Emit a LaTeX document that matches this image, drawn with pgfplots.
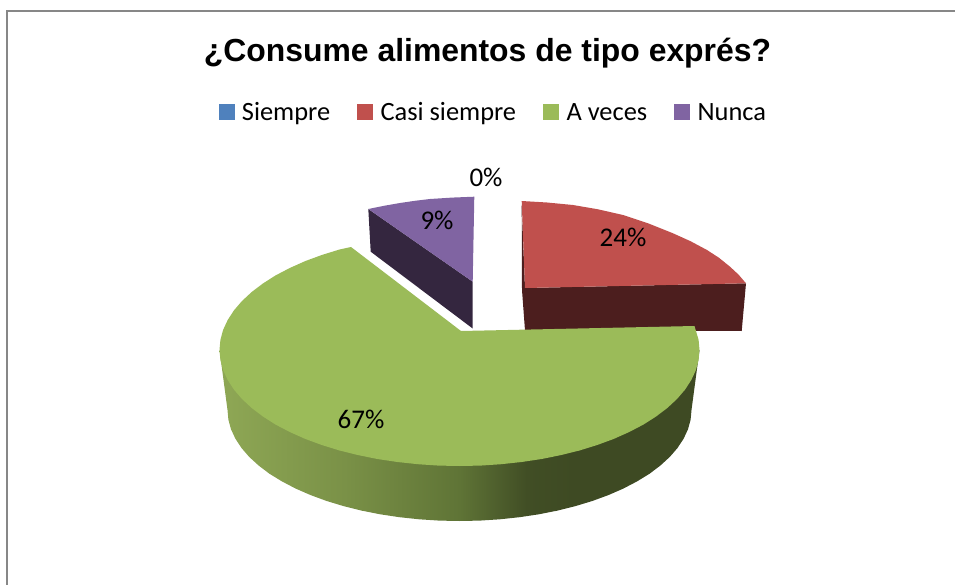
\documentclass[border=0pt]{standalone}
\usepackage{pgfplots}
\pgfplotsset{compat=1.18}
\usepackage{fontspec}
\setmainfont{Carlito}
\newfontfamily\titlefont{Liberation Sans}
\definecolor{cBlue}{HTML}{4F81BD}
\definecolor{cRed}{HTML}{C0504D}
\definecolor{cGreen}{HTML}{9BBB59}
\definecolor{cPurple}{HTML}{8064A2}
\definecolor{dRed}{HTML}{4C1E1E}
\definecolor{dPurple}{HTML}{34263F}
\definecolor{gA}{HTML}{8DA654}
\definecolor{gB}{HTML}{7A9147}
\definecolor{gC}{HTML}{5F7436}
\definecolor{gD}{HTML}{414E25}
\definecolor{gE}{HTML}{3E4A23}
\pgfdeclarehorizontalshading{greenside}{100bp}{color(0bp)=(gA); color(26bp)=(gA); color(38bp)=(gB); color(50bp)=(gC); color(57bp)=(gD); color(62bp)=(gE); color(100bp)=(gE)}
\begin{document}
\begin{tikzpicture}
\useasboundingbox (0,0) rectangle (955pt,585pt);
\begin{axis}[
  at={(0,0)}, anchor=south west,
  width=955pt, height=585pt, scale only axis,
  xmin=0, xmax=955, ymin=0, ymax=585, y dir=reverse,
  hide axis,
  legend columns=-1,
  legend cell align=left,
  legend style={draw=none, fill=none, at={(0.5165,0.8085)}, anchor=center,
    font=\fontsize{26.4}{30}\selectfont,
    nodes={text height=20pt, text depth=4pt},
    /tikz/every even column/.append style={column sep=25pt},
    /tikz/every odd column/.append style={column sep=6pt},
    inner sep=0pt, outer sep=0pt},
  legend image code/.code={\fill[#1] (0pt,-7.5pt) rectangle (15pt,7.5pt);},
]
% frame
\addplot[forget plot, color=black!47, line width=1.6pt] coordinates {(7,590) (7,11) (960,11)};
% legend
\addlegendimage{cBlue}\addlegendentry{Siempre}
\addlegendimage{cRed}\addlegendentry{Casi siempre}
\addlegendimage{cGreen}\addlegendentry{A veces}
\addlegendimage{cPurple}\addlegendentry{Nunca}
% Nunca 9%
\addplot[forget plot, fill=dPurple, draw=none] coordinates {(368.3,209) (472.7,281.7) (472.7,328.5) (370.7,251.7)} -- cycle;
\addplot[forget plot, fill=cPurple, draw=none] coordinates {(474.3,196.7) (452,197.6) (430,199) (415,200.8) (400,203) (384,205.8) (368.3,209) (472.7,281.7)} -- cycle;
% Casi siempre 24%
\addplot[forget plot, fill=dRed, draw=none] coordinates {(521.7,205) (525,288) (525,330.5) (522,290)} -- cycle;
\addplot[forget plot, fill=dRed, draw=none] coordinates {(525,288) (746,283.3) (741.7,331) (525,330.5)} -- cycle;
\addplot[forget plot, fill=cRed, draw=none] coordinates {(521.7,201) (547,202.5) (573,205) (598,209.3) (623,215) (648,223.3) (673,233.3) (690.5,241.2) (707,250) (719,257.8) (730,266.7) (738.5,274.6) (746,283.3) (525,288)} -- cycle;
% A veces 67%
\addplot[forget plot, shading=greenside, draw=none] coordinates {(699.5,350) (691.5,410) (690.6,419.7) (688,429.3) (683.6,438.7) (677.5,448) (669.8,456.9) (660.4,465.5) (649.6,473.7) (637.2,481.3) (623.5,488.5) (608.6,495) (592.6,500.9) (575.5,506.1) (557.5,510.6) (538.8,514.3) (519.5,517.2) (499.8,519.3) (479.7,520.6) (459.5,521) (439.3,520.6) (419.2,519.3) (399.5,517.2) (380.2,514.3) (361.5,510.6) (343.5,506.1) (326.4,500.9) (310.4,495) (295.5,488.5) (281.8,481.3) (269.4,473.7) (258.6,465.5) (249.2,456.9) (241.5,448) (235.4,438.7) (231,429.3) (228.4,419.7) (227.5,410) (219.5,350)} -- cycle;
\addplot[forget plot, fill=cGreen, draw=none] coordinates {(461,331) (694.5,326) (698.6,339.9) (699.5,350) (698.6,360.1) (695.9,370.1) (691.3,380) (685,389.7) (677,399) (667.3,408) (656.1,416.5) (643.4,424.6) (629.2,432) (613.8,438.9) (597.2,445) (579.5,450.5) (560.9,455.1) (541.6,459) (521.6,462) (501.2,464.2) (480.4,465.6) (459.5,466) (438.6,465.6) (417.8,464.2) (397.4,462) (377.4,459) (358.1,455.1) (339.5,450.5) (321.8,445) (305.2,438.9) (289.8,432) (275.6,424.6) (262.9,416.5) (251.7,408) (242,399) (234,389.7) (227.7,380) (223.1,370.1) (220.4,360.1) (219.5,350) (220.4,339.9) (223.1,329.9) (227.7,320) (234,310.3) (242,301) (251.7,292) (262.9,283.5) (275.6,275.4) (289.8,268) (305.2,261.1) (321.8,255) (339.5,249.5) (351,247)} -- cycle;
% texts
\node[anchor=center, font=\titlefont\bfseries\fontsize{31.9}{38}\selectfont] at (axis cs:487.5,53) {¿Consume alimentos de tipo exprés?};
\node[font=\fontsize{27}{30}\selectfont] at (axis cs:486,177) {0\%};
\node[font=\fontsize{27}{30}\selectfont] at (axis cs:437,220) {9\%};
\node[font=\fontsize{27}{30}\selectfont] at (axis cs:623,237) {24\%};
\node[font=\fontsize{27}{30}\selectfont] at (axis cs:361,419) {67\%};
\end{axis}
\end{tikzpicture}
\end{document}
